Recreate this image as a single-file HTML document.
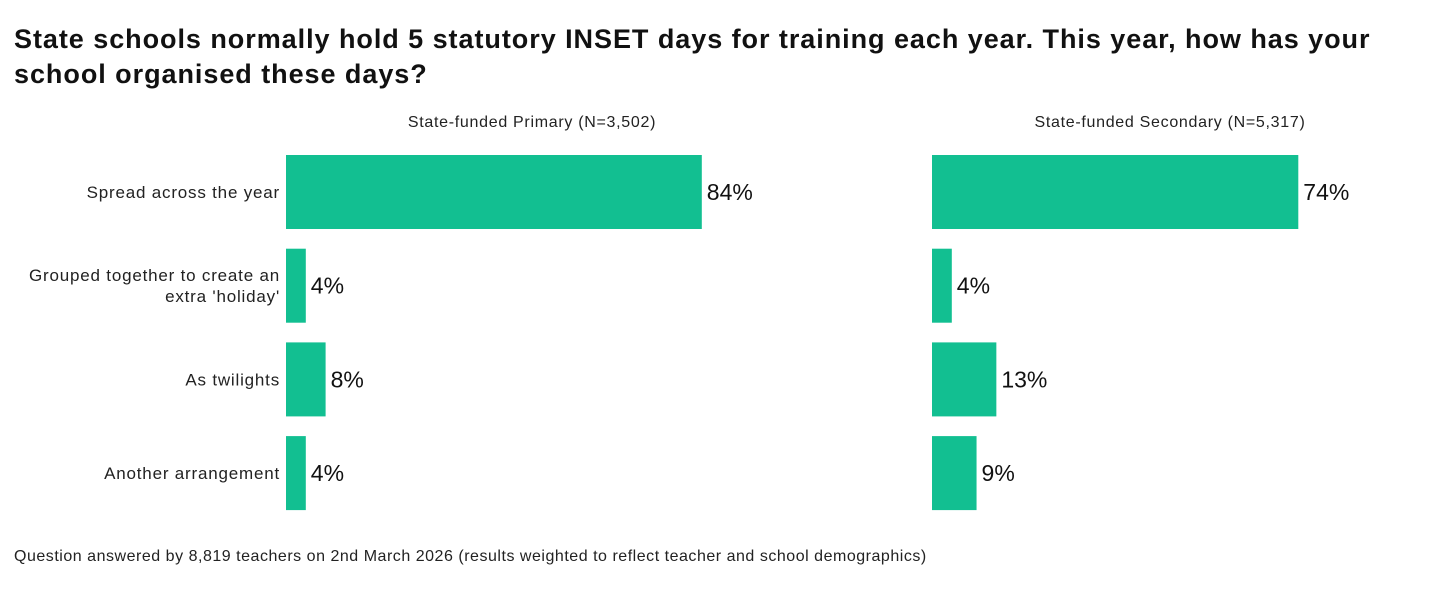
<!DOCTYPE html>
<html><head><meta charset="utf-8"><style>
body{margin:0;width:1440px;height:600px;background:#fff;font-family:"Liberation Sans",sans-serif;overflow:hidden;position:relative}
h1{position:absolute;left:14px;top:22px;margin:0;font-size:27px;letter-spacing:0.95px;line-height:35px;font-weight:bold;color:#111;width:1430px;white-space:nowrap}
.foot{position:absolute;left:14px;top:548px;font-size:16px;letter-spacing:0.52px;color:#222}
</style></head><body>
<h1>State schools normally hold 5 statutory INSET days for training each year. This year, how has your<br>school organised these days?</h1>
<svg id="c" width="1440" height="600" style="position:absolute;left:0;top:0"></svg>
<div class="foot">Question answered by 8,819 teachers on 2nd March 2026 (results weighted to reflect teacher and school demographics)</div>
<script>
const categories=["Spread across the year","Grouped together to create an|extra 'holiday'","As twilights","Another arrangement"];
const panels=["State-funded Primary (N=3,502)","State-funded Secondary (N=5,317)"];
const primary=[84,4,8,4];
const secondary=[74,4,13,9];
const svg=document.getElementById('c');
const NS='http://www.w3.org/2000/svg';
function el(t,a,txt){const e=document.createElementNS(NS,t);for(const k in a)e.setAttribute(k,a[k]);if(txt!=null)e.textContent=txt;svg.appendChild(e);return e;}
const pxPer=4.95, y0=155, step=93.7, bh=74;
function yPos(i){return y0+i*step;}
categories.forEach((c,i)=>{
  const lines=c.split('|');const cy=yPos(i)+bh/2;
  lines.forEach((l,j)=>{
    const t=el('text',{x:280,y:cy+6+(j-(lines.length-1)/2)*21,'text-anchor':'end','font-size':17,'letter-spacing':0.8,fill:'#222'},l);
    
    
  });
});
[[primary,286,532],[secondary,932,1170]].forEach(([vals,x0,tx],p)=>{
  const h=el('text',{x:tx,y:127,'text-anchor':'middle','font-size':16,'letter-spacing':0.7,fill:'#222'},panels[p]);
  
  
  vals.forEach((v,i)=>{
    const w=v*pxPer;
    const r=el('rect',{x:x0,y:yPos(i),width:w,height:bh,fill:'#12bf91'});
    
    
    const t=el('text',{x:x0+w+5,y:yPos(i)+bh/2+8,'font-size':23,fill:'#111'},v+'%');
    
    
  });
});
</script>
</body></html>
